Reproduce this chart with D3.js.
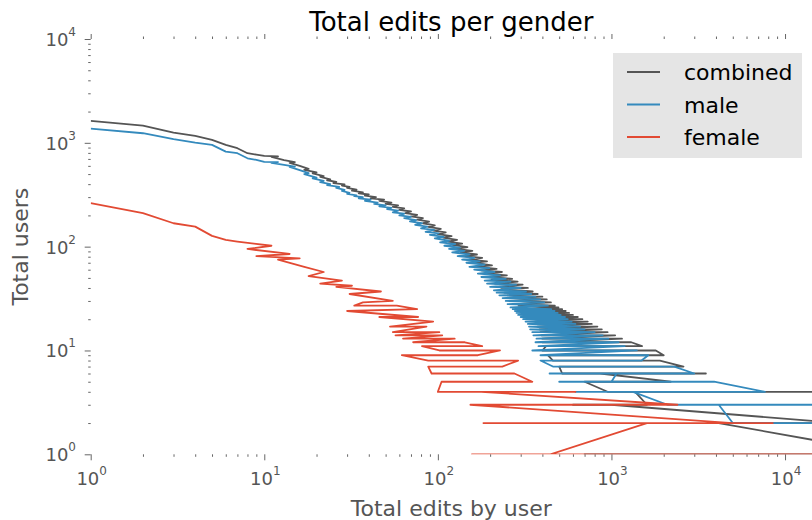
<!DOCTYPE html>
<html>
<head>
<meta charset="utf-8">
<script src="https://cdn.jsdelivr.net/npm/d3@7"></script>
<style>
  html, body { margin: 0; padding: 0; background: #fff; }
  svg { display: block; font-family: "DejaVu Sans", sans-serif; }
</style>
</head>
<body>
<svg id="chart" width="812" height="520"></svg>
<script>
// Users per edit count, one [edits, users] pair per point, in plotting order
// (most common counts first, so the line zigzags among equal counts).
const combinedPoints = [
  [1,1630],[2,1462],[3,1254],[4,1165],[5,1067],[6,955],[7,887],[8,794],[9,770],[10,748],[12,742],[11,734],
  [13,680],[15,652],[14,640],[16,600],[18,560],[17,548],[20,520],[19,508],[22,478],[21,470],[24,445],[23,436],
  [26,420],[25,410],[29,398],[28,388],[31,376],[30,368],[34,354],[32,346],[37,334],[35,326],[40,318],[38,310],
  [44,300],[41,292],[49,284],[46,276],[54,266],[50,258],[59,250],[55,242],[64,234],[60,226],[70,218],[65,210],
  [76,202],[70,196],[82,188],[76,182],[89,174],[82,168],[96,160],[88,155],[104,148],[94,143],[111,137],[100,132],
  [120,126],[107,122],[129,116],[114,112],[138,107],[121,104],[148,99],[128,95],[158,91],[135,88],[168,84],[143,81],
  [180,78],[152,75],[192,72],[160,70],[205,66],[168,64],[218,61],[178,59],[234,57],[186,55],[250,53],[195,51],
  [268,49],[204,48],[288,46],[213,44],[308,43],[222,41],[330,40],[232,39],[352,37],[242,36],[376,35],[252,34],
  [400,33],[262,32],[424,31],[272,30],[448,29],[282,28],[472,27],[292,27],[495,26],[300,25],[520,25],[310,24],
  [545,24],[320,23],[570,23],[330,22],[600,22],[341,21],[640,21],[352,20],[680,20],[363,19],[730,19],[370,18],
  [770,18],[375,17],[830,17],[385,16],[880,16],[390,15],[950,15],[395,14],[1050,14],[400,13],[1150,13],[400,12],
  [1300,12],[1500,11],[420,11],[400,10],[1800,10],[2000,9],[430,9],[460,8],[1900,8],[2600,7],[500,7],[520,6],
  [3500,6],[860,6],[2200,5],[700,5],[950,4],[20000,4],[1370,4],[1600,3],[600,3],[1000,3],[20700,2],[4150,2],
  [42000,1],[700,1],[30000,1]
];

const malePoints = [
  [1,1370],[2,1237],[3,1083],[4,1004],[5,955],[6,823],[7,794],[8,710],[9,685],[10,655],[12,652],[11,640],
  [13,612],[15,590],[14,586],[16,545],[18,510],[17,500],[20,462],[19,455],[22,430],[21,418],[24,400],[23,392],
  [27,376],[26,368],[29,352],[28,344],[31,330],[30,322],[34,312],[33,306],[37,300],[35,292],[41,284],[38,276],
  [45,266],[43,258],[50,250],[46,244],[54,236],[51,230],[59,222],[55,214],[64,208],[60,200],[70,194],[64,188],
  [75,180],[69,175],[81,168],[74,162],[87,156],[80,150],[95,145],[85,139],[101,134],[90,130],[108,124],[96,120],
  [116,114],[103,110],[126,106],[109,102],[134,98],[116,95],[142,91],[121,88],[152,84],[130,81],[162,78],[138,75],
  [174,72],[146,70],[186,67],[152,64],[198,62],[162,60],[212,57],[170,55],[228,53],[178,51],[246,49],[186,47],
  [262,46],[192,44],[282,43],[200,41],[300,40],[210,38],[322,37],[218,36],[345,35],[226,34],[365,33],[236,32],
  [388,31],[246,30],[410,29],[252,28],[430,27],[262,26],[450,25],[270,25],[470,24],[278,24],[490,23],[284,23],
  [510,22],[290,22],[540,21],[300,21],[560,20],[310,20],[590,19],[320,19],[620,18],[330,18],[660,17],[335,17],
  [700,16],[340,16],[760,15],[350,15],[800,15],[355,14],[890,14],[370,13],[960,13],[365,12],[1100,12],[380,11],
  [1190,11],[350,10],[1400,10],[390,9],[1630,9],[1490,8],[390,8],[460,7],[2300,7],[3000,6],[440,6],[1070,6],
  [1000,5],[500,5],[3900,5],[7660,4],[620,4],[1330,4],[2100,3],[20000,3],[4150,3],[5000,2],[16000,2],[25000,1]
];

const femalePoints = [
  [1,262],[2,210],[3,168],[4,156],[5,127],[6,116],[7,112],[11,102],[8,95],[14,85],[9,81],[16,77],
  [12,75],[17,64],[22,57],[18,52],[28,47],[21,44],[32,42],[26,41],[47,37],[31,35],[55,30],[37,29],
  [33,27],[58,27],[76,25],[30,24],[77,21],[46,21],[94,19],[53,17],[86,17],[55,15],[102,15],[57,14],
  [106,14],[63,13],[125,13],[72,12],[143,12],[180,11],[81,11],[102,10],[228,10],[170,9],[62,9],[88,8],
  [290,8],[235,7],[88,7],[92,6],[276,6],[350,5],[105,5],[100,4],[620,4],[178,4],[2400,3],[154,3],
  [5000,2],[183,2],[8500,2],[1600,2],[445,1],[157,1],[20000,1]
];

const seriesNames = ["combined", "male", "female"];
const seriesColors = ["#555555", "#348ABD", "#E24A33"];
const xMajorTicks = [1, 10, 100, 1000, 10000];
const yMajorTicks = [1, 10, 100, 1000, 10000];
const xDomain = [1, 14300];
const yDomain = [1, 10000];

const series = [
  { name: seriesNames[0], color: seriesColors[0], pts: combinedPoints },
  { name: seriesNames[1], color: seriesColors[1], pts: malePoints },
  { name: seriesNames[2], color: seriesColors[2], pts: femalePoints }
];

const plot = { left: 90.7, right: 812, top: 39, bottom: 454.3 };
const svg = d3.select("#chart");

const x = d3.scaleLog().domain(xDomain).range([plot.left, plot.right]);
const y = d3.scaleLog().domain(yDomain).range([plot.bottom, plot.top]);

// minor ticks at 2..9 of every decade inside the domain
function minorTicks(domain) {
  const out = [];
  for (let p = 1; p < domain[1]; p *= 10)
    for (let m = 2; m <= 9; m++) if (m * p <= domain[1]) out.push(m * p);
  return out;
}
const xMinor = minorTicks(xDomain);
const yMinor = minorTicks(yDomain);

const tickColor = "#666";
function styleAxis(g) {
  g.select(".domain").remove();
  g.selectAll(".tick line").attr("stroke", tickColor).attr("stroke-width", 1);
  g.selectAll(".tick text").remove();
}

// bottom
svg.append("g").attr("transform", `translate(0,${plot.bottom})`)
  .call(d3.axisBottom(x).tickValues(xMajorTicks).tickSize(6).tickFormat(() => "")).call(styleAxis);
svg.append("g").attr("transform", `translate(0,${plot.bottom})`)
  .call(d3.axisBottom(x).tickValues(xMinor).tickSize(2.5).tickFormat(() => "")).call(styleAxis);
// top
svg.append("g").attr("transform", `translate(0,${plot.top})`)
  .call(d3.axisTop(x).tickValues(xMajorTicks).tickSize(5).tickFormat(() => "")).call(styleAxis);
svg.append("g").attr("transform", `translate(0,${plot.top})`)
  .call(d3.axisTop(x).tickValues(xMinor).tickSize(2.5).tickFormat(() => "")).call(styleAxis);
// left
svg.append("g").attr("transform", `translate(${plot.left},0)`)
  .call(d3.axisLeft(y).tickValues(yMajorTicks).tickSize(6).tickFormat(() => "")).call(styleAxis);
svg.append("g").attr("transform", `translate(${plot.left},0)`)
  .call(d3.axisLeft(y).tickValues(yMinor).tickSize(2.5).tickFormat(() => "")).call(styleAxis);

// power-of-ten tick labels
const labelColor = "#555";
function powerLabel(sel, v) {
  const e = Math.round(Math.log10(v));
  sel.append("tspan").text("10");
  sel.append("tspan").attr("dy", -10).attr("font-size", 12).text(e);
}
xMajorTicks.forEach(v => {
  const t = svg.append("text").attr("x", x(v) + 1).attr("y", 485)
    .attr("text-anchor", "middle").attr("font-size", 18).attr("fill", labelColor);
  powerLabel(t, v);
});
yMajorTicks.forEach(v => {
  const t = svg.append("text").attr("x", 76).attr("y", y(v) + 7)
    .attr("text-anchor", "end").attr("font-size", 18).attr("fill", labelColor);
  powerLabel(t, v);
});

// clip to the axes box
svg.append("clipPath").attr("id", "plotclip").append("rect")
  .attr("x", plot.left).attr("y", plot.top)
  .attr("width", plot.right - plot.left).attr("height", plot.bottom - plot.top);

const line = d3.line().x(d => x(d[0])).y(d => y(d[1]));
svg.append("g").attr("clip-path", "url(#plotclip)")
  .selectAll("path").data(series).join("path")
  .attr("d", d => line(d.pts))
  .attr("fill", "none")
  .attr("stroke", d => d.color)
  .attr("stroke-width", 1.8)
  .attr("stroke-linejoin", "round");

// titles
svg.append("text").attr("x", (plot.left + plot.right) / 2).attr("y", 31)
  .attr("text-anchor", "middle").attr("font-size", 26).attr("fill", "#000")
  .text("Total edits per gender");
svg.append("text").attr("x", (plot.left + plot.right) / 2).attr("y", 516)
  .attr("text-anchor", "middle").attr("font-size", 22).attr("fill", labelColor)
  .text("Total edits by user");
svg.append("text").attr("transform", `translate(28,${(plot.top + plot.bottom) / 2}) rotate(-90)`)
  .attr("text-anchor", "middle").attr("font-size", 22).attr("fill", labelColor)
  .text("Total users");

// legend
const legend = svg.append("g");
legend.append("rect").attr("x", 613).attr("y", 53).attr("width", 189).attr("height", 105)
  .attr("fill", "#e5e5e5");
series.forEach((s, i) => {
  const cy = 72 + i * 32.5;
  legend.append("line").attr("x1", 627).attr("x2", 660).attr("y1", cy).attr("y2", cy)
    .attr("stroke", s.color).attr("stroke-width", 2);
  legend.append("text").attr("x", 684).attr("y", cy + 8).attr("font-size", 22)
    .attr("fill", "#000").text(s.name);
});
</script>
</body>
</html>
